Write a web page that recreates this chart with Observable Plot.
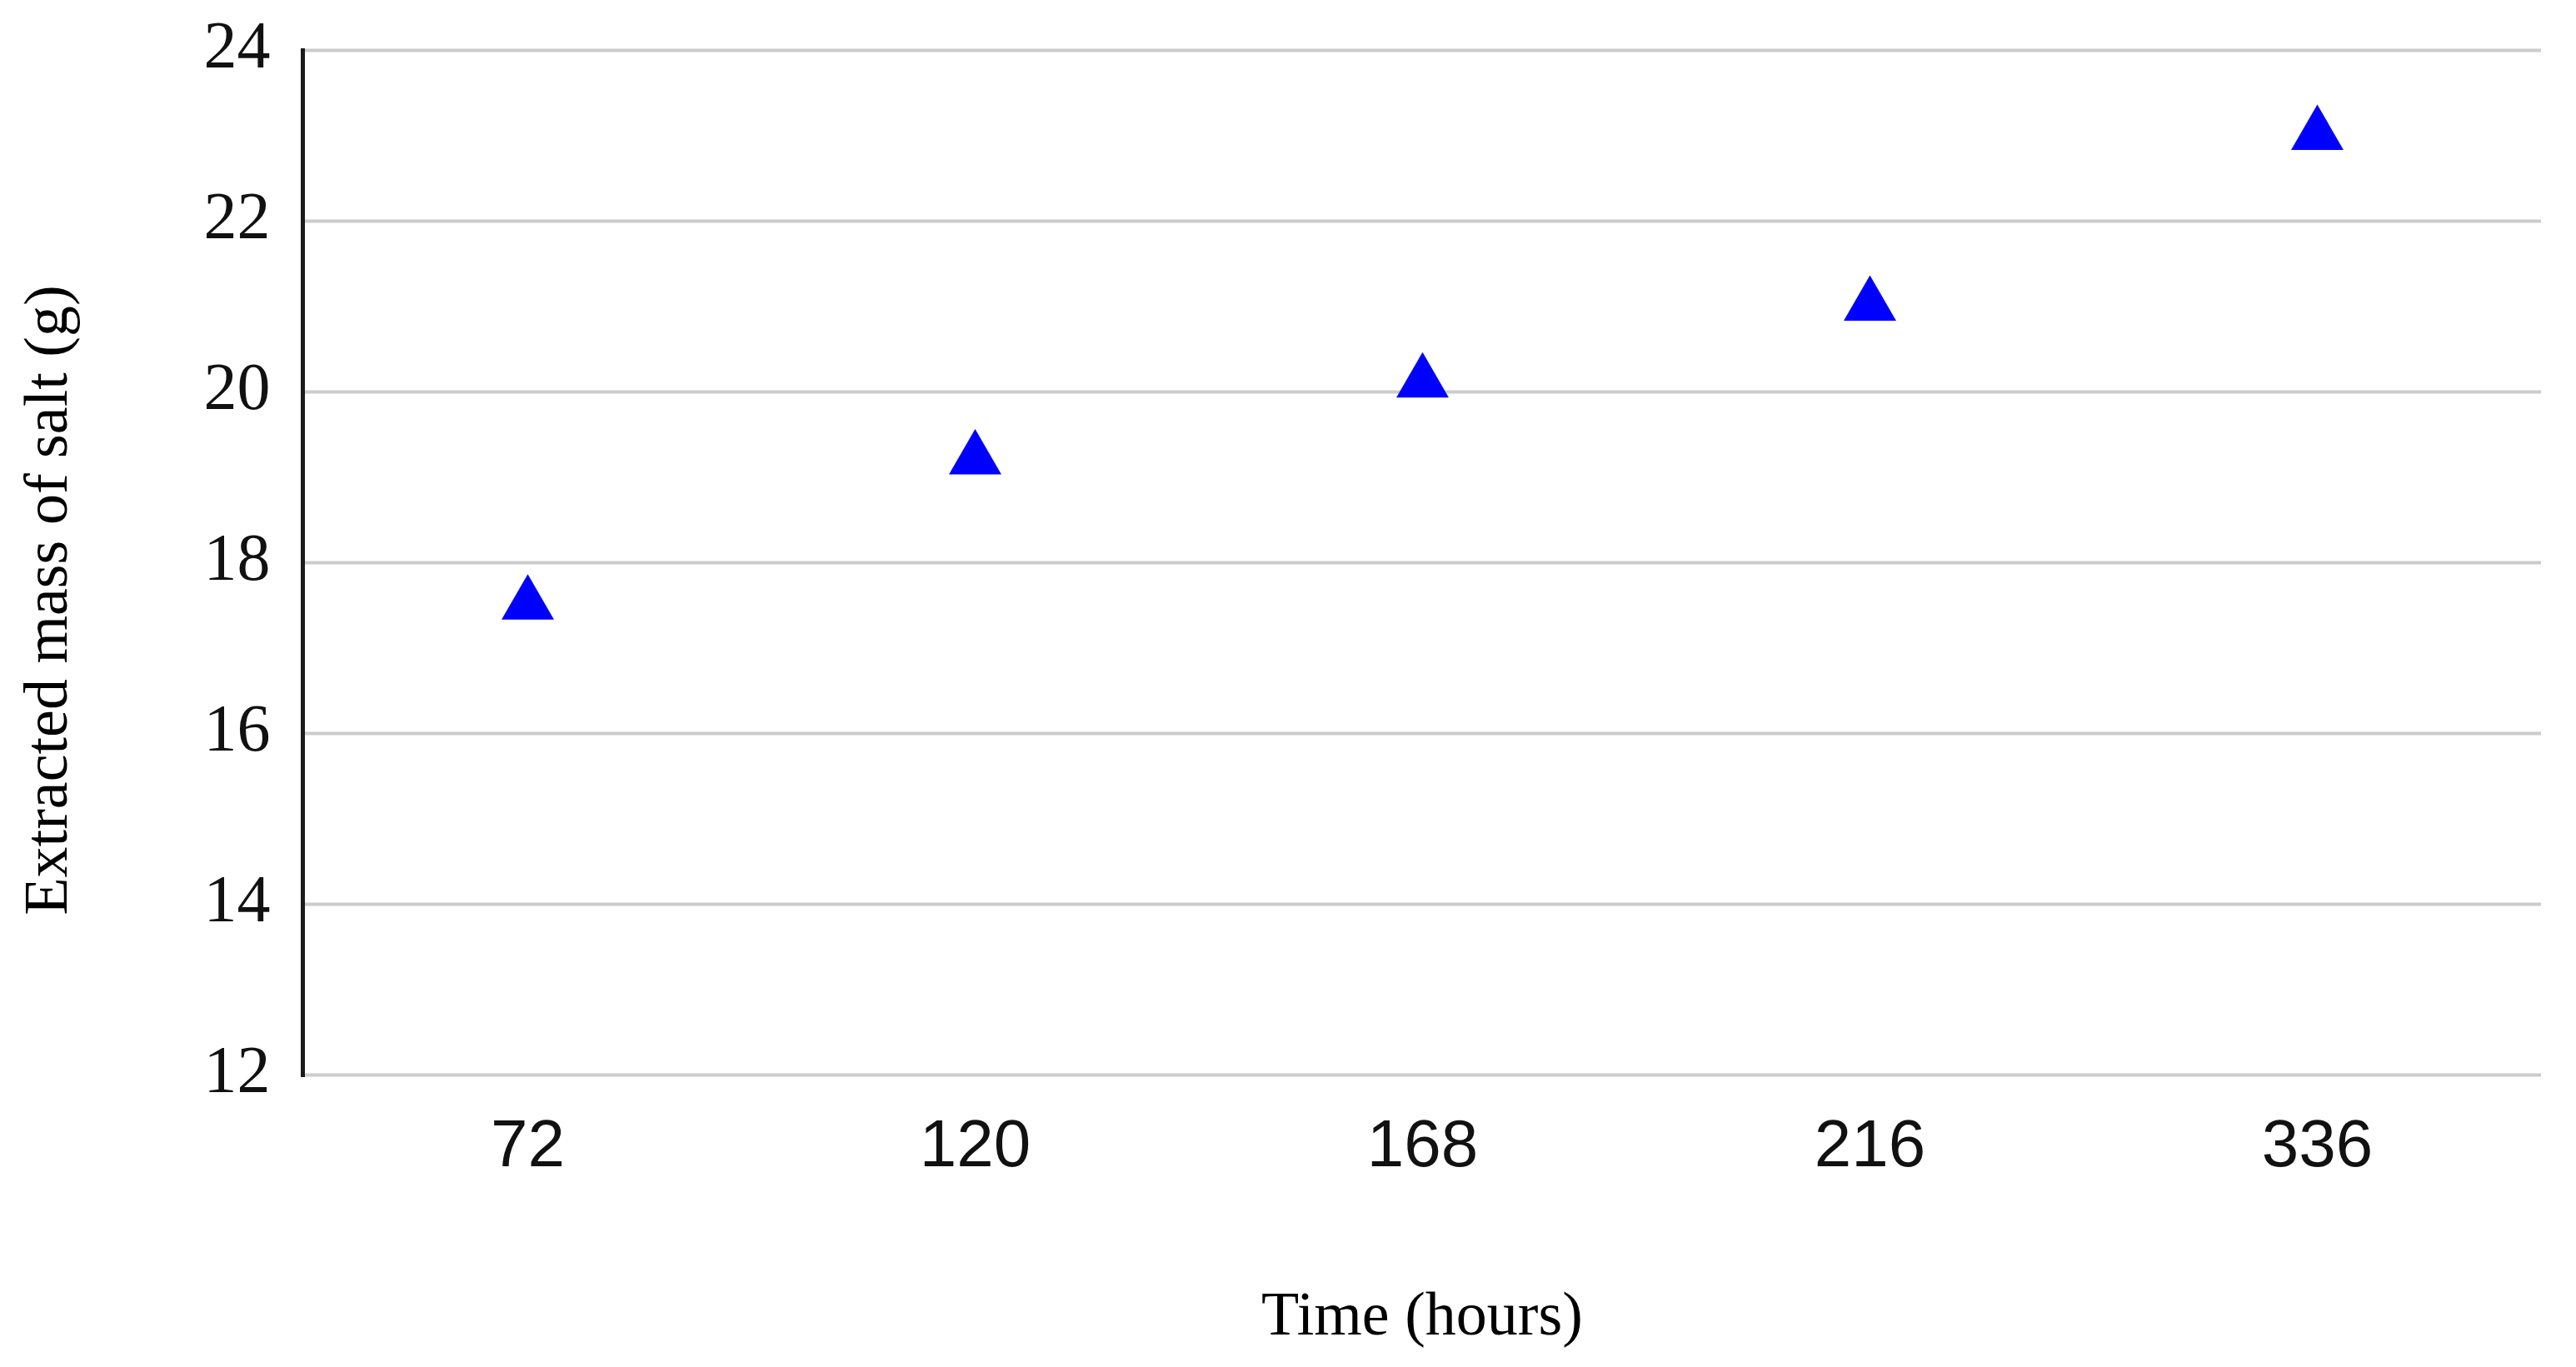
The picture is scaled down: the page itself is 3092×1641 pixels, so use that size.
<!DOCTYPE html>
<html>
<head>
<meta charset="utf-8">
<script src="https://cdn.jsdelivr.net/npm/d3@7"></script>
<script src="https://cdn.jsdelivr.net/npm/@observablehq/plot@0.6"></script>
<style>
  html, body { margin: 0; padding: 0; background: #ffffff; }
  #chart svg { display: block; }
  #chart g[aria-label="x-axis tick label"] text { font-family: "Liberation Sans", Arial, sans-serif; }
  #chart g[aria-label="y-axis tick label"] text { font-family: "Liberation Serif", "Times New Roman", serif; }
</style>
</head>
<body>
<div id="chart"></div>
<script>
// ---- data ----
const times = ["72", "120", "168", "216", "336"];       // Time (hours), categorical axis
const mass = [17.6, 19.3, 20.2, 21.1, 23.1];            // Extracted mass of salt (g)
const yTicks = [12, 14, 16, 18, 20, 22, 24];
const xTitle = "Time (hours)";
const yTitle = "Extracted mass of salt (g)";

const data = times.map((t, i) => ({time: t, mass: mass[i]}));

// equilateral triangle centred on its bounding box (as in the source chart)
const triangle = {
  draw(context, size) {
    const w = Math.sqrt(size);
    const h = w * Math.sqrt(3) / 2;
    context.moveTo(0, -h / 2);
    context.lineTo(w / 2, h / 2);
    context.lineTo(-w / 2, h / 2);
    context.closePath();
  }
};

const chart = Plot.plot({
  width: 3092,
  height: 1641,
  marginLeft: 363,
  marginRight: 42,
  marginTop: 60,
  marginBottom: 351,
  style: {background: "#ffffff", fontFamily: "Liberation Serif", fontSize: "80px", color: "#000"},
  x: {type: "point", domain: times, padding: 0.5, label: null},
  y: {domain: [12, 24], label: null},
  marks: [
    Plot.gridY(yTicks, {stroke: "#cccccc", strokeOpacity: 1, strokeWidth: 4}),
    Plot.frame({anchor: "left", stroke: "#1a1a1a", strokeWidth: 5}),
    Plot.axisY(yTicks, {tickSize: 0, tickPadding: 39, fontSize: 80, dy: -5, label: null, fill: "#111", tickFormat: (d) => String(d)}),
    Plot.axisX({tickSize: 0, tickPadding: 53, fontSize: 80, label: null, fill: "#111"}),
    Plot.dot(data, {x: "time", y: "mass", symbol: triangle, r: 35.5, fill: "#0000ff", stroke: "none"}),
    Plot.text([xTitle], {frameAnchor: "bottom", dy: 288, textAnchor: "middle", lineAnchor: "middle", fontSize: 74, fill: "#000"}),
    Plot.text([yTitle], {frameAnchor: "left", dx: -307, dy: 45, rotate: -90, textAnchor: "middle", lineAnchor: "middle", fontSize: 74, fill: "#000"})
  ]
});

document.getElementById("chart").appendChild(chart);
</script>
</body>
</html>
